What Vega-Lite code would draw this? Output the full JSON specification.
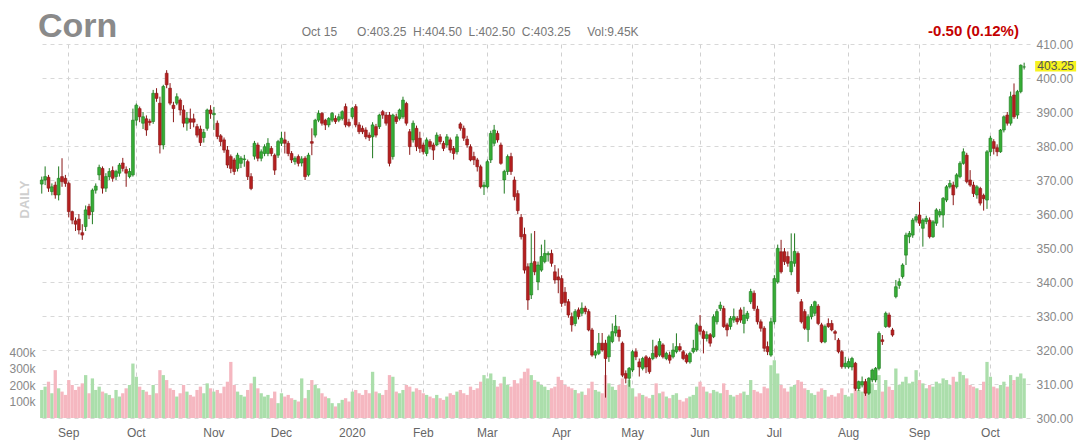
{
"$schema": "https://vega.github.io/schema/vega-lite/v6.json",
"width": 992, "height": 374,
"autosize": {"type": "none"},
"padding": {"left": 38, "top": 44, "right": 50, "bottom": 25},
"background": "white",
"config": {"view": {"stroke": null}, "font": "Liberation Sans", "axis": {"labelFont": "Liberation Sans", "titleFont": "Liberation Sans"}, "text": {"font": "Liberation Sans"}},
"title": {"text": "Corn", "anchor": "start", "frame": "group", "offset": 6, "dy": 26, "fontSize": 34, "fontWeight": "bold", "color": "#8a8a8a", "font": "Liberation Sans"},
"data": {"values": [
{"d":"2019-08-21","o":368.8,"h":371,"l":366,"c":370,"v":170},
{"d":"2019-08-22","o":370,"h":374,"l":368.5,"c":371,"v":190},
{"d":"2019-08-23","o":370.8,"h":371.5,"l":366.5,"c":367.6,"v":220},
{"d":"2019-08-26","o":366.6,"h":369,"l":365.5,"c":368,"v":150},
{"d":"2019-08-27","o":368.5,"h":369.5,"l":364.5,"c":365.6,"v":290},
{"d":"2019-08-28","o":365.6,"h":374,"l":364,"c":370.5,"v":180},
{"d":"2019-08-29","o":371,"h":376.4,"l":368,"c":369.5,"v":160},
{"d":"2019-08-30","o":370.5,"h":371.5,"l":368,"c":369,"v":140},
{"d":"2019-09-03","o":369,"h":369.5,"l":359,"c":360.7,"v":230},
{"d":"2019-09-04","o":360.7,"h":361,"l":357,"c":358.2,"v":200},
{"d":"2019-09-05","o":358,"h":359,"l":355,"c":357,"v":170},
{"d":"2019-09-06","o":358.5,"h":360,"l":354,"c":355.3,"v":190},
{"d":"2019-09-09","o":354.5,"h":357,"l":352.4,"c":353.8,"v":210},
{"d":"2019-09-10","o":356.3,"h":362.5,"l":355,"c":361.2,"v":260},
{"d":"2019-09-11","o":362.2,"h":363,"l":358.5,"c":359.7,"v":150},
{"d":"2019-09-12","o":360.7,"h":367.5,"l":357,"c":367,"v":240},
{"d":"2019-09-13","o":367,"h":369,"l":366,"c":368.2,"v":170},
{"d":"2019-09-16","o":371.5,"h":374.5,"l":370,"c":373.7,"v":190},
{"d":"2019-09-17","o":373.4,"h":374,"l":366,"c":367.6,"v":160},
{"d":"2019-09-18","o":367.6,"h":372,"l":366.5,"c":371,"v":150},
{"d":"2019-09-19","o":371,"h":373.5,"l":370,"c":372.5,"v":140},
{"d":"2019-09-20","o":372.8,"h":374,"l":369.5,"c":370.5,"v":120},
{"d":"2019-09-23","o":371,"h":373,"l":370,"c":372.5,"v":170},
{"d":"2019-09-24","o":372,"h":375,"l":371,"c":374.4,"v":130},
{"d":"2019-09-25","o":375,"h":376.5,"l":372.5,"c":373.4,"v":150},
{"d":"2019-09-26","o":373.1,"h":374,"l":368,"c":372,"v":180},
{"d":"2019-09-27","o":371,"h":373.5,"l":370.5,"c":372.5,"v":200},
{"d":"2019-09-30","o":371.5,"h":391,"l":371,"c":387.6,"v":330},
{"d":"2019-10-01","o":387.6,"h":392.5,"l":386,"c":392,"v":250},
{"d":"2019-10-02","o":391,"h":391.6,"l":387,"c":388.6,"v":190},
{"d":"2019-10-03","o":386.7,"h":390,"l":385,"c":388.6,"v":170},
{"d":"2019-10-04","o":388,"h":389,"l":383,"c":384.7,"v":160},
{"d":"2019-10-07","o":387.3,"h":388,"l":386,"c":386.9,"v":140},
{"d":"2019-10-08","o":387.2,"h":396.5,"l":386.5,"c":395.5,"v":200},
{"d":"2019-10-09","o":395.5,"h":397,"l":393,"c":394,"v":150},
{"d":"2019-10-10","o":392.6,"h":394.5,"l":377.8,"c":380.3,"v":290},
{"d":"2019-10-11","o":380.3,"h":398,"l":379,"c":397.5,"v":260},
{"d":"2019-10-14","o":401.4,"h":402.3,"l":397,"c":398,"v":230},
{"d":"2019-10-15","o":397,"h":398.5,"l":392,"c":392.6,"v":180},
{"d":"2019-10-16","o":392,"h":393,"l":387,"c":391,"v":170},
{"d":"2019-10-17","o":392.6,"h":395.5,"l":392,"c":394.5,"v":130},
{"d":"2019-10-18","o":393.5,"h":394,"l":389,"c":390.6,"v":150},
{"d":"2019-10-21","o":390.6,"h":392,"l":385.5,"c":386.7,"v":200},
{"d":"2019-10-22","o":386.7,"h":390,"l":384.5,"c":388.2,"v":160},
{"d":"2019-10-23","o":388,"h":391,"l":385,"c":387,"v":140},
{"d":"2019-10-24","o":388,"h":389.5,"l":385.5,"c":387,"v":130},
{"d":"2019-10-25","o":385.7,"h":386.5,"l":382.5,"c":383.2,"v":170},
{"d":"2019-10-28","o":385,"h":386,"l":380,"c":381,"v":190},
{"d":"2019-10-29","o":382.5,"h":385,"l":381,"c":384,"v":150},
{"d":"2019-10-30","o":385.2,"h":391,"l":384.5,"c":390.6,"v":210},
{"d":"2019-10-31","o":390.6,"h":392,"l":388,"c":389.5,"v":180},
{"d":"2019-11-01","o":389.2,"h":391.5,"l":384.7,"c":389.6,"v":160},
{"d":"2019-11-04","o":386.7,"h":387.5,"l":382,"c":382.8,"v":170},
{"d":"2019-11-05","o":383,"h":383.5,"l":380,"c":381.3,"v":150},
{"d":"2019-11-06","o":381.8,"h":382.5,"l":378,"c":378.8,"v":190},
{"d":"2019-11-07","o":378.8,"h":380,"l":373.5,"c":374.4,"v":220},
{"d":"2019-11-08","o":376.9,"h":377.5,"l":372,"c":373.4,"v":340},
{"d":"2019-11-11","o":375.9,"h":376.5,"l":371.5,"c":372.5,"v":200},
{"d":"2019-11-12","o":373.4,"h":378,"l":372.5,"c":377.3,"v":160},
{"d":"2019-11-13","o":374.9,"h":377,"l":373.5,"c":376.4,"v":140},
{"d":"2019-11-14","o":376,"h":377.4,"l":373.9,"c":376.2,"v":130},
{"d":"2019-11-15","o":375.4,"h":376,"l":370,"c":371,"v":170},
{"d":"2019-11-18","o":371,"h":372,"l":367,"c":367.5,"v":210},
{"d":"2019-11-19","o":377,"h":381.5,"l":376,"c":380.8,"v":250},
{"d":"2019-11-20","o":380.3,"h":381,"l":375.5,"c":376.4,"v":180},
{"d":"2019-11-21","o":376.4,"h":379,"l":375.5,"c":378.3,"v":150},
{"d":"2019-11-22","o":377.8,"h":380.5,"l":377,"c":379.8,"v":130},
{"d":"2019-11-25","o":377.8,"h":382.3,"l":377,"c":380.8,"v":140},
{"d":"2019-11-26","o":379.3,"h":380,"l":377,"c":377.8,"v":120},
{"d":"2019-11-27","o":377.3,"h":377.8,"l":371.5,"c":372.9,"v":160},
{"d":"2019-11-29","o":377.3,"h":381.8,"l":376.5,"c":381.3,"v":90},
{"d":"2019-12-02","o":380.8,"h":384.2,"l":380,"c":382.3,"v":150},
{"d":"2019-12-03","o":381.8,"h":384.2,"l":377.8,"c":380.8,"v":130},
{"d":"2019-12-04","o":380.8,"h":381.5,"l":377,"c":377.8,"v":140},
{"d":"2019-12-05","o":377.8,"h":378.5,"l":375,"c":375.9,"v":120},
{"d":"2019-12-06","o":375.4,"h":377,"l":374.5,"c":376.4,"v":110},
{"d":"2019-12-09","o":376.9,"h":377.5,"l":374,"c":374.9,"v":100},
{"d":"2019-12-10","o":375,"h":377,"l":374,"c":376.2,"v":240},
{"d":"2019-12-11","o":376.4,"h":377,"l":370,"c":371,"v":120},
{"d":"2019-12-12","o":371.5,"h":378,"l":371,"c":377.3,"v":170},
{"d":"2019-12-13","o":381.3,"h":385.2,"l":377.3,"c":380.8,"v":230},
{"d":"2019-12-16","o":383.2,"h":388,"l":382.5,"c":387.6,"v":200},
{"d":"2019-12-17","o":387.6,"h":390.5,"l":387,"c":389.6,"v":180},
{"d":"2019-12-18","o":389.6,"h":390,"l":386,"c":386.7,"v":150},
{"d":"2019-12-19","o":387.6,"h":388,"l":384.7,"c":386.2,"v":130},
{"d":"2019-12-20","o":386.2,"h":388.5,"l":385.5,"c":388.1,"v":120},
{"d":"2019-12-23","o":387.6,"h":390,"l":387,"c":389.6,"v":90},
{"d":"2019-12-24","o":388.1,"h":389,"l":386.5,"c":387.2,"v":70},
{"d":"2019-12-26","o":387.6,"h":389.5,"l":387,"c":388.6,"v":90},
{"d":"2019-12-27","o":388.1,"h":390.5,"l":387.5,"c":390.1,"v":110},
{"d":"2019-12-30","o":391.6,"h":392.5,"l":385.5,"c":386.2,"v":120},
{"d":"2019-12-31","o":387,"h":388,"l":385.5,"c":386,"v":100},
{"d":"2020-01-02","o":388.6,"h":391.5,"l":388,"c":391.1,"v":160},
{"d":"2020-01-03","o":391.6,"h":392.3,"l":385.5,"c":386.2,"v":170},
{"d":"2020-01-06","o":386.2,"h":387,"l":383.5,"c":384.2,"v":150},
{"d":"2020-01-07","o":385.2,"h":386,"l":383.5,"c":384.2,"v":140},
{"d":"2020-01-08","o":384.7,"h":385.5,"l":382,"c":382.7,"v":170},
{"d":"2020-01-09","o":383.2,"h":384,"l":381.5,"c":382.5,"v":150},
{"d":"2020-01-10","o":382.7,"h":387,"l":376.4,"c":386.2,"v":280},
{"d":"2020-01-13","o":385.7,"h":386.5,"l":382.5,"c":383.2,"v":160},
{"d":"2020-01-14","o":385.7,"h":389.5,"l":385,"c":389.1,"v":150},
{"d":"2020-01-15","o":390.1,"h":390.6,"l":388,"c":389.1,"v":140},
{"d":"2020-01-16","o":389.1,"h":390,"l":386,"c":386.7,"v":170},
{"d":"2020-01-17","o":389.1,"h":390,"l":374,"c":374.9,"v":260},
{"d":"2020-01-21","o":376.9,"h":389.5,"l":376,"c":389.1,"v":250},
{"d":"2020-01-22","o":388.6,"h":389.5,"l":386.5,"c":387.2,"v":160},
{"d":"2020-01-23","o":388.1,"h":391,"l":387.5,"c":390.6,"v":150},
{"d":"2020-01-24","o":388.6,"h":394.5,"l":388,"c":393.5,"v":170},
{"d":"2020-01-27","o":392.5,"h":393,"l":386,"c":386.7,"v":200},
{"d":"2020-01-28","o":384.2,"h":385,"l":377.4,"c":379.8,"v":190},
{"d":"2020-01-29","o":381.8,"h":387.5,"l":381,"c":386.7,"v":160},
{"d":"2020-01-30","o":385.2,"h":386,"l":378.5,"c":379.8,"v":180},
{"d":"2020-01-31","o":382.3,"h":384.2,"l":378,"c":379.3,"v":170},
{"d":"2020-02-03","o":380.3,"h":381,"l":377.5,"c":378.3,"v":150},
{"d":"2020-02-04","o":377.8,"h":382.5,"l":377,"c":381.8,"v":140},
{"d":"2020-02-05","o":381.3,"h":382,"l":379,"c":379.8,"v":130},
{"d":"2020-02-06","o":380.3,"h":381,"l":375.9,"c":378.8,"v":120},
{"d":"2020-02-07","o":380.3,"h":384,"l":380,"c":383.2,"v":140},
{"d":"2020-02-10","o":382.7,"h":383.5,"l":380.5,"c":381.3,"v":120},
{"d":"2020-02-11","o":380.8,"h":381.5,"l":378.5,"c":379.3,"v":110},
{"d":"2020-02-12","o":380.3,"h":383.5,"l":379.5,"c":382.7,"v":130},
{"d":"2020-02-13","o":381.8,"h":382.5,"l":378,"c":378.8,"v":150},
{"d":"2020-02-14","o":379.3,"h":380,"l":376,"c":377.8,"v":140},
{"d":"2020-02-18","o":378.3,"h":383.5,"l":377.5,"c":382.7,"v":160},
{"d":"2020-02-19","o":386.5,"h":387,"l":384.5,"c":385.2,"v":170},
{"d":"2020-02-20","o":385.2,"h":386,"l":381.5,"c":382.3,"v":150},
{"d":"2020-02-21","o":382,"h":383,"l":379.5,"c":380.3,"v":140},
{"d":"2020-02-24","o":379.8,"h":380.5,"l":375.5,"c":375.9,"v":190},
{"d":"2020-02-25","o":376.9,"h":378.3,"l":374.4,"c":375.9,"v":170},
{"d":"2020-02-26","o":375.9,"h":376.5,"l":372.5,"c":373.9,"v":180},
{"d":"2020-02-27","o":373.9,"h":374.5,"l":367.5,"c":368,"v":220},
{"d":"2020-02-28","o":368,"h":369.5,"l":365.6,"c":368.5,"v":260},
{"d":"2020-03-02","o":368,"h":376,"l":367.5,"c":375.4,"v":240},
{"d":"2020-03-03","o":375.9,"h":384.5,"l":375,"c":383.7,"v":270},
{"d":"2020-03-04","o":380.8,"h":386.2,"l":380,"c":384.7,"v":230},
{"d":"2020-03-05","o":383.7,"h":384.5,"l":381,"c":381.8,"v":190},
{"d":"2020-03-06","o":380.3,"h":381,"l":374.5,"c":374.9,"v":210},
{"d":"2020-03-09","o":370,"h":373,"l":366,"c":372.5,"v":250},
{"d":"2020-03-10","o":372.5,"h":377.5,"l":371.5,"c":376.9,"v":200},
{"d":"2020-03-11","o":376.9,"h":378,"l":371.5,"c":372.5,"v":190},
{"d":"2020-03-12","o":370,"h":371,"l":364,"c":365.1,"v":230},
{"d":"2020-03-13","o":366,"h":367,"l":360,"c":361,"v":210},
{"d":"2020-03-16","o":359,"h":360,"l":352.5,"c":353.3,"v":240},
{"d":"2020-03-17","o":354,"h":356,"l":342.5,"c":343.5,"v":280},
{"d":"2020-03-18","o":344.5,"h":345.5,"l":331.8,"c":334.7,"v":300},
{"d":"2020-03-19","o":336.2,"h":354.3,"l":335,"c":345.5,"v":260},
{"d":"2020-03-20","o":346,"h":355,"l":342,"c":343,"v":230},
{"d":"2020-03-23","o":340,"h":346,"l":337.6,"c":345,"v":220},
{"d":"2020-03-24","o":343.5,"h":351,"l":343,"c":347.5,"v":200},
{"d":"2020-03-25","o":346,"h":352.4,"l":345.5,"c":348.4,"v":190},
{"d":"2020-03-26","o":348,"h":349,"l":346,"c":348.4,"v":170},
{"d":"2020-03-27","o":348.4,"h":349.5,"l":344.5,"c":345.5,"v":180},
{"d":"2020-03-30","o":343,"h":345,"l":339.5,"c":340.6,"v":190},
{"d":"2020-03-31","o":341.5,"h":344,"l":336.7,"c":340.6,"v":250},
{"d":"2020-04-01","o":341,"h":342,"l":332.7,"c":333.7,"v":230},
{"d":"2020-04-02","o":337,"h":338.5,"l":333,"c":334,"v":200},
{"d":"2020-04-03","o":334.2,"h":335,"l":329.5,"c":330.3,"v":190},
{"d":"2020-04-06","o":329.8,"h":331,"l":325.4,"c":327.4,"v":180},
{"d":"2020-04-07","o":327.8,"h":332,"l":327,"c":331.3,"v":170},
{"d":"2020-04-08","o":331.8,"h":332.5,"l":329,"c":329.8,"v":150},
{"d":"2020-04-09","o":330.8,"h":334,"l":330,"c":332.3,"v":160},
{"d":"2020-04-13","o":332.3,"h":333,"l":330.5,"c":331.3,"v":140},
{"d":"2020-04-14","o":331.3,"h":332,"l":325.5,"c":325.9,"v":180},
{"d":"2020-04-15","o":325.9,"h":326.5,"l":318,"c":318.5,"v":220},
{"d":"2020-04-16","o":318.5,"h":320,"l":317.5,"c":319.5,"v":170},
{"d":"2020-04-17","o":319,"h":325,"l":318.5,"c":322,"v":160},
{"d":"2020-04-20","o":322,"h":325,"l":319.5,"c":320,"v":150},
{"d":"2020-04-21","o":322,"h":323,"l":306,"c":317.5,"v":260},
{"d":"2020-04-22","o":318,"h":324.5,"l":316.5,"c":323.9,"v":210},
{"d":"2020-04-23","o":322.5,"h":327.8,"l":322,"c":325.4,"v":190},
{"d":"2020-04-24","o":325,"h":330.3,"l":324,"c":327,"v":170},
{"d":"2020-04-27","o":325.9,"h":327,"l":322.5,"c":323.9,"v":200},
{"d":"2020-04-28","o":322,"h":322.5,"l":312,"c":312.6,"v":240},
{"d":"2020-04-29","o":313.1,"h":314,"l":310.2,"c":311.7,"v":200},
{"d":"2020-04-30","o":311.7,"h":315,"l":309.2,"c":314.6,"v":230},
{"d":"2020-05-01","o":314.1,"h":320,"l":313.5,"c":319.5,"v":180},
{"d":"2020-05-04","o":319.5,"h":320.5,"l":317,"c":318,"v":130},
{"d":"2020-05-05","o":316.5,"h":317.5,"l":312.2,"c":315,"v":150},
{"d":"2020-05-06","o":314.6,"h":318,"l":314,"c":317.5,"v":140},
{"d":"2020-05-07","o":318,"h":318.5,"l":313.2,"c":315,"v":130},
{"d":"2020-05-08","o":317.5,"h":318,"l":313,"c":313.6,"v":120},
{"d":"2020-05-11","o":317.5,"h":323,"l":317,"c":319,"v":140},
{"d":"2020-05-12","o":321,"h":321.5,"l":317.5,"c":318,"v":210},
{"d":"2020-05-13","o":318.5,"h":323.4,"l":318,"c":322.5,"v":150},
{"d":"2020-05-14","o":321.5,"h":322,"l":317.5,"c":318,"v":160},
{"d":"2020-05-15","o":317.5,"h":319.5,"l":317,"c":319,"v":130},
{"d":"2020-05-18","o":318.5,"h":319.5,"l":316,"c":317,"v":120},
{"d":"2020-05-19","o":318,"h":322,"l":317.5,"c":320,"v":140},
{"d":"2020-05-20","o":319.5,"h":324.9,"l":319,"c":321,"v":150},
{"d":"2020-05-21","o":321,"h":322,"l":319.5,"c":320,"v":110},
{"d":"2020-05-22","o":319.5,"h":320,"l":317,"c":317.5,"v":100},
{"d":"2020-05-26","o":318.5,"h":319,"l":316,"c":316.5,"v":120},
{"d":"2020-05-27","o":316.5,"h":319.5,"l":316,"c":319,"v":130},
{"d":"2020-05-28","o":319.5,"h":323,"l":319,"c":320.5,"v":140},
{"d":"2020-05-29","o":320,"h":328,"l":319.5,"c":327.4,"v":190},
{"d":"2020-06-01","o":327,"h":330.3,"l":324.5,"c":325.5,"v":220},
{"d":"2020-06-02","o":325.5,"h":326,"l":319,"c":323.4,"v":190},
{"d":"2020-06-03","o":323.4,"h":325.5,"l":322.5,"c":324.5,"v":160},
{"d":"2020-06-04","o":324.5,"h":325,"l":321,"c":322,"v":150},
{"d":"2020-06-05","o":323.9,"h":330.5,"l":323.5,"c":329.8,"v":170},
{"d":"2020-06-08","o":328.3,"h":332,"l":327.5,"c":331.3,"v":160},
{"d":"2020-06-09","o":332.2,"h":334.2,"l":331.5,"c":333.2,"v":150},
{"d":"2020-06-10","o":332.2,"h":333,"l":326.5,"c":326.9,"v":210},
{"d":"2020-06-11","o":327.4,"h":328,"l":324,"c":325.9,"v":170},
{"d":"2020-06-12","o":326.9,"h":330,"l":326,"c":329.3,"v":140},
{"d":"2020-06-15","o":328.8,"h":332.2,"l":328,"c":329.8,"v":130},
{"d":"2020-06-16","o":329.3,"h":330,"l":327.5,"c":328.3,"v":140},
{"d":"2020-06-17","o":331.8,"h":332.5,"l":328,"c":328.8,"v":150},
{"d":"2020-06-18","o":327.8,"h":332.7,"l":324.9,"c":330.3,"v":160},
{"d":"2020-06-19","o":329.3,"h":331.5,"l":328.5,"c":330.8,"v":140},
{"d":"2020-06-22","o":334.2,"h":338,"l":333.5,"c":337.2,"v":230},
{"d":"2020-06-23","o":336.7,"h":337.5,"l":331.5,"c":332.2,"v":170},
{"d":"2020-06-24","o":332,"h":333,"l":327.5,"c":328.3,"v":160},
{"d":"2020-06-25","o":328.3,"h":329,"l":325.4,"c":326.4,"v":150},
{"d":"2020-06-26","o":326.4,"h":327,"l":319.5,"c":320.5,"v":190},
{"d":"2020-06-29","o":321,"h":322.5,"l":318.5,"c":319.5,"v":180},
{"d":"2020-06-30","o":318.5,"h":329.5,"l":318,"c":328.3,"v":320},
{"d":"2020-07-01","o":328.3,"h":342,"l":327.5,"c":341,"v":350},
{"d":"2020-07-02","o":340,"h":351,"l":339.5,"c":349.9,"v":270},
{"d":"2020-07-06","o":348.9,"h":352.4,"l":342.5,"c":343,"v":200},
{"d":"2020-07-07","o":348.9,"h":350,"l":345,"c":346,"v":180},
{"d":"2020-07-08","o":347.5,"h":349,"l":344.5,"c":345.5,"v":160},
{"d":"2020-07-09","o":343,"h":354.3,"l":342,"c":346,"v":190},
{"d":"2020-07-10","o":345.5,"h":354.3,"l":344.5,"c":349,"v":200},
{"d":"2020-07-13","o":348.4,"h":349,"l":336.5,"c":337.2,"v":230},
{"d":"2020-07-14","o":334.2,"h":335,"l":327.8,"c":328.3,"v":220},
{"d":"2020-07-15","o":331.3,"h":332,"l":325.9,"c":326.4,"v":180},
{"d":"2020-07-16","o":326,"h":330.5,"l":322.4,"c":329.8,"v":170},
{"d":"2020-07-17","o":329.8,"h":333.5,"l":329,"c":332.8,"v":150},
{"d":"2020-07-20","o":330.8,"h":334.5,"l":330,"c":334.2,"v":140},
{"d":"2020-07-21","o":332.9,"h":333.5,"l":327.3,"c":327.8,"v":160},
{"d":"2020-07-22","o":327.4,"h":328,"l":322,"c":322.4,"v":180},
{"d":"2020-07-23","o":322.4,"h":327.5,"l":322,"c":326.9,"v":170},
{"d":"2020-07-24","o":327.8,"h":329.3,"l":326.5,"c":326.9,"v":130},
{"d":"2020-07-27","o":327.8,"h":328.8,"l":325.5,"c":325.9,"v":140},
{"d":"2020-07-28","o":325.4,"h":325.9,"l":322.9,"c":324.9,"v":130},
{"d":"2020-07-29","o":322.9,"h":323.5,"l":319,"c":319.5,"v":150},
{"d":"2020-07-30","o":319.5,"h":320,"l":314.5,"c":315.1,"v":180},
{"d":"2020-07-31","o":315.1,"h":318,"l":314.5,"c":316.1,"v":140},
{"d":"2020-08-03","o":315,"h":317.5,"l":314.5,"c":316.6,"v":130},
{"d":"2020-08-04","o":315,"h":318,"l":314,"c":317.5,"v":150},
{"d":"2020-08-05","o":316.1,"h":316.5,"l":308,"c":308.7,"v":190},
{"d":"2020-08-06","o":308.7,"h":311,"l":308,"c":310.7,"v":170},
{"d":"2020-08-07","o":309.7,"h":312.2,"l":309,"c":310.7,"v":160},
{"d":"2020-08-10","o":310.7,"h":311.5,"l":306.5,"c":307.3,"v":180},
{"d":"2020-08-11","o":307.3,"h":312,"l":306.8,"c":311.7,"v":200},
{"d":"2020-08-12","o":311.2,"h":314.5,"l":310.5,"c":314.1,"v":210},
{"d":"2020-08-13","o":311.2,"h":315,"l":310.5,"c":314.6,"v":170},
{"d":"2020-08-14","o":314.6,"h":325.5,"l":314,"c":324.9,"v":260},
{"d":"2020-08-17","o":323,"h":324.4,"l":321.5,"c":322.5,"v":160},
{"d":"2020-08-18","o":326.9,"h":331.3,"l":326.5,"c":330.8,"v":230},
{"d":"2020-08-19","o":330.3,"h":331,"l":326.5,"c":326.9,"v":190},
{"d":"2020-08-20","o":325.9,"h":326.5,"l":323.9,"c":324.4,"v":170},
{"d":"2020-08-21","o":335.7,"h":340.6,"l":335.2,"c":338.6,"v":300},
{"d":"2020-08-24","o":339,"h":341.1,"l":338,"c":340.1,"v":200},
{"d":"2020-08-25","o":341.6,"h":345.5,"l":341,"c":345,"v":220},
{"d":"2020-08-26","o":347.9,"h":354.5,"l":345,"c":353.8,"v":250},
{"d":"2020-08-27","o":353.3,"h":355,"l":351.4,"c":354.3,"v":210},
{"d":"2020-08-28","o":353.8,"h":358.8,"l":353,"c":358.2,"v":220},
{"d":"2020-08-31","o":358.2,"h":360,"l":357.5,"c":359.2,"v":290},
{"d":"2020-09-01","o":359.7,"h":363.6,"l":356.5,"c":357.3,"v":230},
{"d":"2020-09-02","o":355.8,"h":358.7,"l":350.4,"c":358.2,"v":210},
{"d":"2020-09-03","o":357.8,"h":359.5,"l":357,"c":358.7,"v":180},
{"d":"2020-09-04","o":358.2,"h":359,"l":352.8,"c":353.3,"v":200},
{"d":"2020-09-08","o":353.3,"h":358.2,"l":353,"c":357.7,"v":190},
{"d":"2020-09-09","o":357.3,"h":361.7,"l":356.5,"c":361.2,"v":220},
{"d":"2020-09-10","o":359.7,"h":361.5,"l":359,"c":360.7,"v":210},
{"d":"2020-09-11","o":359.7,"h":365,"l":356,"c":364.6,"v":240},
{"d":"2020-09-14","o":364.1,"h":368.5,"l":363.5,"c":368,"v":230},
{"d":"2020-09-15","o":368,"h":370,"l":367.5,"c":369,"v":200},
{"d":"2020-09-16","o":368.5,"h":369.5,"l":362.6,"c":365.6,"v":250},
{"d":"2020-09-17","o":368,"h":372,"l":367.5,"c":371.5,"v":220},
{"d":"2020-09-18","o":371,"h":375.5,"l":370.5,"c":374.9,"v":280},
{"d":"2020-09-21","o":374.9,"h":379.3,"l":374.5,"c":378.3,"v":260},
{"d":"2020-09-22","o":377.3,"h":378,"l":369,"c":369.5,"v":240},
{"d":"2020-09-23","o":370,"h":372.9,"l":368,"c":368.5,"v":200},
{"d":"2020-09-24","o":368.5,"h":369.5,"l":365,"c":366,"v":190},
{"d":"2020-09-25","o":365.6,"h":368.5,"l":364.5,"c":368,"v":180},
{"d":"2020-09-28","o":367.5,"h":368,"l":362.5,"c":363.2,"v":170},
{"d":"2020-09-29","o":365.5,"h":366,"l":361,"c":364.5,"v":220},
{"d":"2020-09-30","o":364.1,"h":378.8,"l":361.5,"c":378.3,"v":340},
{"d":"2020-10-01","o":378.3,"h":383,"l":377,"c":382.3,"v":250},
{"d":"2020-10-02","o":381.3,"h":382,"l":377.5,"c":379.3,"v":190},
{"d":"2020-10-05","o":379.5,"h":380.5,"l":377,"c":378.3,"v":180},
{"d":"2020-10-06","o":378.3,"h":385,"l":378,"c":384.7,"v":200},
{"d":"2020-10-07","o":384.7,"h":389,"l":384,"c":388.6,"v":220},
{"d":"2020-10-08","o":389.1,"h":390,"l":386,"c":386.7,"v":190},
{"d":"2020-10-09","o":386.7,"h":396,"l":386,"c":394.5,"v":260},
{"d":"2020-10-12","o":395,"h":398.4,"l":388,"c":388.6,"v":230},
{"d":"2020-10-13","o":389.1,"h":396.5,"l":388,"c":396,"v":250},
{"d":"2020-10-14","o":396,"h":404,"l":395.5,"c":403.75,"v":270},
{"d":"2020-10-15","o":403.25,"h":404.5,"l":402.5,"c":403.25,"v":240}
]},
"encoding": {
  "x": {"field": "d", "type": "ordinal", "title": null,
    "scale": {"type": "band", "paddingInner": 0.15, "paddingOuter": 1.25, "align": 0.345},
    "axis": {"values": ["2019-09-03","2019-10-01","2019-11-01","2019-12-02","2020-01-02","2020-02-03","2020-03-02","2020-04-01","2020-05-01","2020-06-01","2020-07-01","2020-08-03","2020-09-01","2020-10-01"],
      "labelExpr": "slice(datum.value,5,7) == '01' ? slice(datum.value,0,4) : ['Jan','Feb','Mar','Apr','May','Jun','Jul','Aug','Sep','Oct','Nov','Dec'][toNumber(slice(datum.value,5,7))-1]",
      "bandPosition": 0.5, "grid": true, "gridDash": [4,4], "gridColor": "#d0d0d0", "domain": false, "ticks": false,
      "labelAngle": 0, "labelColor": "#666", "labelFontSize": 12, "labelPadding": 9, "labelOverlap": false}}
},
"layer": [
  {"mark": {"type": "bar", "width": {"band": 1.15}},
   "encoding": {
     "y": {"field": "v", "type": "quantitative", "scale": {"domain": [0, 2267], "nice": false},
       "axis": {"orient": "left", "values": [100,200,300,400], "labelExpr": "datum.value + 'k'", "grid": false, "domain": false, "ticks": false,
         "labelColor": "#888", "labelFontSize": 12, "labelPadding": 3, "labelOverlap": false,
         "title": "DAILY", "titleColor": "#cfcfcf", "titleFontSize": 13, "titleFontWeight": "bold", "titleX": -14, "titleY": 155, "titleAngle": -90, "titleAlign": "center", "titleBaseline": "middle"}},
     "color": {"condition": {"test": "datum.c >= datum.o", "value": "#abdeab"}, "value": "#f5b7c0"}
   }},
  {"encoding": {
     "y": {"field": "l", "type": "quantitative", "title": null, "scale": {"domain": [300, 410], "nice": false, "zero": false},
       "axis": {"orient": "right", "values": [300,310,320,330,340,350,360,370,380,390,400,410], "format": ".2f", "grid": true, "gridDash": [4,4], "gridColor": "#d8d8d8",
         "domain": false, "ticks": false, "labelColor": "#888", "labelFontSize": 12, "labelPadding": 6, "labelOverlap": false, "labelBound": false, "title": null}}
   },
   "layer": [
    {"mark": {"type": "rule", "strokeWidth": 1},
     "encoding": {
       "y2": {"field": "h"},
       "color": {"condition": {"test": "datum.c >= datum.o", "value": "#1f7a1f"}, "value": "#8a1717"}
     }},
    {"mark": {"type": "bar", "strokeWidth": 0.6},
     "encoding": {
       "y": {"field": "o", "type": "quantitative", "title": null, "scale": {"domain": [300, 410], "nice": false, "zero": false},
         "axis": {"orient": "right", "values": [300,310,320,330,340,350,360,370,380,390,400,410], "format": ".2f", "grid": true, "gridDash": [4,4], "gridColor": "#d8d8d8",
           "domain": false, "ticks": false, "labelColor": "#888", "labelFontSize": 12, "labelPadding": 6, "labelOverlap": false, "labelBound": false, "title": null}},
       "y2": {"field": "c"},
       "fill": {"condition": {"test": "datum.c >= datum.o", "value": "#36ad36"}, "value": "#b51f1f"},
       "stroke": {"condition": {"test": "datum.c >= datum.o", "value": "#1f7a1f"}, "value": "#8a1717"}
     }},
    {"transform": [{"filter": "datum.d == '2020-10-15'"}],
     "mark": {"type": "bar", "width": 41, "xOffset": 31.5, "color": "#f7f31f"},
     "encoding": {"y": {"datum": 401.9, "type": "quantitative", "title": null, "scale": {"domain": [300, 410], "nice": false, "zero": false},
         "axis": {"orient": "right", "values": [300,310,320,330,340,350,360,370,380,390,400,410], "format": ".2f", "grid": true, "gridDash": [4,4], "gridColor": "#d8d8d8",
           "domain": false, "ticks": false, "labelColor": "#888", "labelFontSize": 12, "labelPadding": 6, "labelOverlap": false, "labelBound": false, "title": null}}, "y2": {"datum": 405}}},
    {"transform": [{"filter": "datum.d == '2020-10-15'"}],
     "mark": {"type": "text", "align": "center", "baseline": "middle", "fontSize": 12, "dx": 31.5, "dy": -0.5, "color": "#555"},
     "encoding": {"y": {"field": "c", "type": "quantitative", "title": null, "scale": {"domain": [300, 410], "nice": false, "zero": false},
         "axis": {"orient": "right", "values": [300,310,320,330,340,350,360,370,380,390,400,410], "format": ".2f", "grid": true, "gridDash": [4,4], "gridColor": "#d8d8d8",
           "domain": false, "ticks": false, "labelColor": "#888", "labelFontSize": 12, "labelPadding": 6, "labelOverlap": false, "labelBound": false, "title": null}}, "text": {"field": "c", "type": "quantitative", "format": ".2f"}}},
    {"transform": [{"filter": "datum.d == '2019-12-10'"}],
     "mark": {"type": "text", "align": "left", "baseline": "middle", "fontSize": 12, "color": "#777",
       "text": "Oct 15\u00a0\u00a0\u00a0\u00a0\u00a0\u00a0O:403.25\u00a0\u00a0H:404.50\u00a0\u00a0L:402.50\u00a0\u00a0C:403.25\u00a0\u00a0\u00a0\u00a0\u00a0Vol:9.45K"},
     "encoding": {"y": {"datum": 413.6, "type": "quantitative", "title": null, "scale": {"domain": [300, 410], "nice": false, "zero": false},
         "axis": {"orient": "right", "values": [300,310,320,330,340,350,360,370,380,390,400,410], "format": ".2f", "grid": true, "gridDash": [4,4], "gridColor": "#d8d8d8",
           "domain": false, "ticks": false, "labelColor": "#888", "labelFontSize": 12, "labelPadding": 6, "labelOverlap": false, "labelBound": false, "title": null}}}},
    {"transform": [{"filter": "datum.d == '2020-09-24'"}],
     "mark": {"type": "text", "align": "center", "baseline": "middle", "fontSize": 15, "fontWeight": "bold", "color": "#c40000", "text": "-0.50 (0.12%)"},
     "encoding": {"y": {"datum": 413.8, "type": "quantitative", "title": null, "scale": {"domain": [300, 410], "nice": false, "zero": false},
         "axis": {"orient": "right", "values": [300,310,320,330,340,350,360,370,380,390,400,410], "format": ".2f", "grid": true, "gridDash": [4,4], "gridColor": "#d8d8d8",
           "domain": false, "ticks": false, "labelColor": "#888", "labelFontSize": 12, "labelPadding": 6, "labelOverlap": false, "labelBound": false, "title": null}}}}
  ]}
],
"resolve": {"scale": {"y": "independent"}, "axis": {"y": "independent"}}
}
